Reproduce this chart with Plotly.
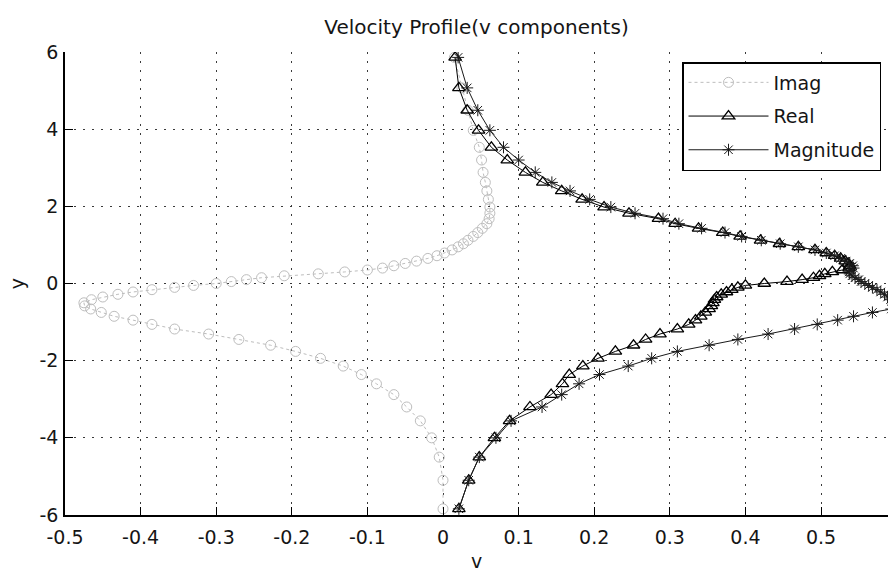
import plotly.graph_objects as go

# Sample heights (y) shared by the three velocity components
y = [5.86, 5.07, 4.49, 3.97, 3.53, 3.20, 2.88, 2.62, 2.40, 2.18,
     1.98, 1.82, 1.68, 1.55, 1.43, 1.32, 1.22, 1.12, 1.03, 0.95,
     0.87, 0.79, 0.72, 0.65, 0.58, 0.52, 0.46, 0.40, 0.35, 0.30,
     0.25, 0.20, 0.15, 0.10, 0.05, 0.00, -0.05, -0.10, -0.16, -0.22,
     -0.28, -0.35, -0.42, -0.50, -0.58, -0.66, -0.75, -0.85, -0.95, -1.06,
     -1.18, -1.31, -1.45, -1.60, -1.76, -1.94, -2.14, -2.36, -2.60, -2.88,
     -3.20, -3.56, -4.00, -4.50, -5.10, -5.84]

# Imaginary part of v
v_imag = [0.015, 0.025, 0.033, 0.040, 0.048, 0.051, 0.053, 0.056, 0.058, 0.060,
          0.062, 0.062, 0.061, 0.058, 0.052, 0.046, 0.040, 0.033, 0.027, 0.020,
          0.012, 0.002, -0.008, -0.020, -0.035, -0.050, -0.065, -0.080, -0.100, -0.130,
          -0.165, -0.210, -0.240, -0.260, -0.280, -0.300, -0.330, -0.355, -0.385, -0.410,
          -0.430, -0.450, -0.465, -0.475, -0.474, -0.466, -0.452, -0.435, -0.410, -0.385,
          -0.355, -0.310, -0.270, -0.228, -0.195, -0.162, -0.132, -0.108, -0.088, -0.065,
          -0.048, -0.030, -0.015, -0.005, 0.000, 0.000]

# Real part of v
v_real = [0.016, 0.021, 0.032, 0.047, 0.064, 0.085, 0.109, 0.132, 0.157, 0.184,
          0.213, 0.246, 0.285, 0.307, 0.338, 0.370, 0.393, 0.420, 0.445, 0.470,
          0.492, 0.507, 0.518, 0.526, 0.532, 0.536, 0.538, 0.537, 0.528, 0.515,
          0.505, 0.498, 0.490, 0.475, 0.455, 0.425, 0.400, 0.390, 0.382, 0.375,
          0.368, 0.362, 0.359, 0.357, 0.355, 0.352, 0.347, 0.341, 0.334, 0.325,
          0.310, 0.287, 0.268, 0.252, 0.228, 0.205, 0.185, 0.167, 0.158, 0.143,
          0.115, 0.088, 0.068, 0.048, 0.034, 0.021]

# Magnitude |v|
v_mag = [0.020, 0.032, 0.046, 0.062, 0.080, 0.100, 0.122, 0.144, 0.168, 0.194,
         0.222, 0.254, 0.291, 0.312, 0.342, 0.373, 0.395, 0.421, 0.446, 0.470,
         0.492, 0.507, 0.518, 0.526, 0.533, 0.538, 0.542, 0.543, 0.538, 0.537,
         0.538, 0.541, 0.545, 0.550, 0.553, 0.558, 0.563, 0.568, 0.574, 0.579,
         0.584, 0.588, 0.592, 0.598, 0.597, 0.593, 0.568, 0.543, 0.522, 0.495,
         0.465, 0.430, 0.390, 0.352, 0.310, 0.276, 0.245, 0.207, 0.180, 0.157,
         0.131, 0.090, 0.070, 0.048, 0.034, 0.021]

x_ticks = [-0.5, -0.4, -0.3, -0.2, -0.1, 0.0, 0.1, 0.2, 0.3, 0.4, 0.5, 0.6]
x_ticktext = ["-0.5", "-0.4", "-0.3", "-0.2", "-0.1", "0", "0.1", "0.2", "0.3", "0.4", "0.5", "0.6"]
y_ticks = [-6, -4, -2, 0, 2, 4, 6]
y_ticktext = ["-6", "-4", "-2", "0", "2", "4", "6"]

FONT = "DejaVu Sans, Verdana, sans-serif"
TEXT = "#151515"

fig = go.Figure()

fig.add_trace(go.Scatter(
    x=v_imag, y=y, name="Imag", legendgroup="imag", mode="lines+markers",
    line=dict(color="#bdbdbd", width=1, dash="dot"),
    marker=dict(symbol="circle-open", size=10, color="#bdbdbd", line=dict(width=1)),
))
fig.add_trace(go.Scatter(
    x=v_real, y=y, name="Real", legendgroup="real", mode="lines+markers",
    line=dict(color="black", width=1),
    marker=dict(symbol="triangle-up-open", size=11, color="black", line=dict(width=1.3)),
))
fig.add_trace(go.Scatter(
    x=v_mag, y=y, name="Magnitude", legendgroup="mag", mode="lines+markers",
    line=dict(color="#1a1a1a", width=1),
    marker=dict(symbol="asterisk-open", size=10, color="#1a1a1a", line=dict(width=1)),
))

axis_common = dict(
    showgrid=True, gridcolor="#3a3a3a", gridwidth=1, griddash="2px,7px",
    zeroline=False, showline=True, linecolor="black", linewidth=1.5,
    ticks="inside", ticklen=8, tickcolor="black", tickwidth=1,
    mirror=False, automargin=False, tickfont=dict(family=FONT, size=19, color=TEXT),
)

fig.update_layout(
    width=888, height=572, autosize=False,
    margin=dict(l=65, r=0, t=52, b=57),
    paper_bgcolor="white", plot_bgcolor="white",
    font=dict(family=FONT, size=19, color=TEXT),
    title=dict(text="Velocity Profile(v components)", x=0.5, xref="paper",
               xanchor="center", y=1 - 27 / 572, yref="container", yanchor="middle",
               font=dict(family=FONT, size=20, color=TEXT)),
    xaxis=dict(range=[-0.5, 0.5886], tickmode="array", tickvals=x_ticks, ticktext=x_ticktext,
               ticklabelstandoff=4,
               title=dict(text="v", standoff=19, font=dict(family=FONT, size=19)),
               **axis_common),
    yaxis=dict(range=[-6, 6], tickmode="array", tickvals=y_ticks, ticktext=y_ticktext,
               ticklabelstandoff=1,
               title=dict(text="y", standoff=10, font=dict(family=FONT, size=19)),
               **axis_common),
    showlegend=True,
    legend=dict(x=(881 - 65) / 823, xanchor="right", y=(515 - 62) / 463, yanchor="top",
                bgcolor="white", bordercolor="black", borderwidth=1.5,
                font=dict(family=FONT, size=19, color=TEXT),
                itemwidth=80, tracegroupgap=6),
)

fig.write_html("out.html")
